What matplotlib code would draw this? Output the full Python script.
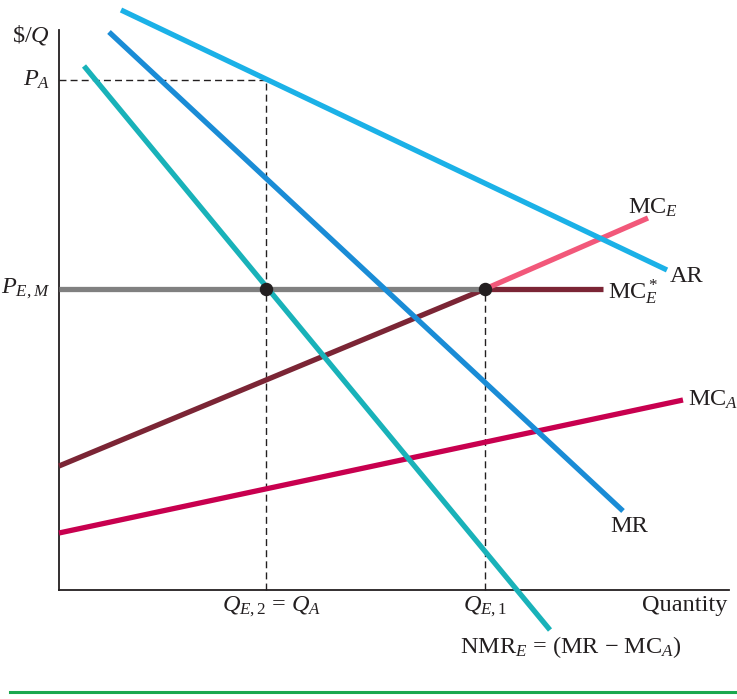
import matplotlib
matplotlib.use("Agg")
import matplotlib.pyplot as plt

plt.rcParams['font.family'] = 'Liberation Serif'
plt.rcParams['mathtext.fontset'] = 'custom'
plt.rcParams['mathtext.rm'] = 'Liberation Serif'
plt.rcParams['mathtext.it'] = 'Liberation Serif:italic'

# curve end points (quantity, $/Q) in diagram units
ar_q = [62, 608]
ar_p = [580, 320]
mr_q = [50, 564]
mr_p = [558, 79]
nmr_q = [25, 491]
nmr_p = [524, -40]
mca_q = [0, 624]
mca_p = [57, 190]
mce_q = [0, 426, 589]
mce_p = [124, 301, 372]
mce_star_end = 544

p_a = 510
p_em = 301
q_a = 207
q_e1 = 426

fig = plt.figure(figsize=(7.37, 6.99), dpi=100)
ax = fig.add_axes([0, 0, 1, 1])
ax.set_xlim(-59, 678)
ax.set_ylim(-109, 590)
ax.axis('off')

lw = 3.8
# axes
ax.plot([0, 0], [0, 560], color='#231f20', lw=1.3)
ax.plot([0, 670], [0, 0], color='#231f20', lw=1.3)

# dashed guides
dash = dict(color='#231f20', lw=1.0, ls=(0, (5, 3)))
ax.plot([0, q_a], [p_a, p_a], **dash)
ax.plot([q_a, q_a], [0, p_a], **dash)
ax.plot([q_e1, q_e1], [0, p_em], **dash)

# curves
ax.plot(mca_q, mca_p, color='#c8004f', lw=lw, solid_capstyle='butt')
ax.plot(mce_q[:2], mce_p[:2], color='#7b2535', lw=lw, solid_capstyle='butt')
ax.plot([q_e1, mce_star_end], [p_em, p_em], color='#7b2535', lw=lw, solid_capstyle='butt')
ax.plot([0, q_e1], [p_em, p_em], color='#808080', lw=lw, solid_capstyle='butt')
ax.plot(mce_q[1:], mce_p[1:], color='#f2587a', lw=lw, solid_capstyle='butt')
ax.plot(ar_q, ar_p, color='#1bb1e7', lw=lw, solid_capstyle='butt')
ax.plot(mr_q, mr_p, color='#1a8cd6', lw=lw, solid_capstyle='butt')
ax.plot(nmr_q, nmr_p, color='#19b2b9', lw=lw, solid_capstyle='butt')

ax.scatter([q_a, q_e1], [p_em, p_em], s=75, color='#231f20', zorder=5)

fs = 17.5
tc = '#231f20'
ax.text(-9, 555, r'$\$/Q$', fontsize=fs, ha='right', va='center', color=tc)
ax.text(-9, p_a, r'$P_A$', fontsize=fs, ha='right', va='center', color=tc)
ax.text(-9, p_em, r'$P_{E,M}$', fontsize=fs, ha='right', va='center', color=tc)
ax.text(mce_q[-1] - 20, 371, r'MC$_E$', fontsize=fs, ha='left', va='bottom', color=tc)
ax.text(ar_q[1] + 3, 314, 'AR', fontsize=fs, ha='left', va='center', color=tc)
ax.text(mce_star_end + 5, p_em - 3, r'MC$_E^*$', fontsize=fs, ha='left', va='center', color=tc)
ax.text(mca_q[1] + 5, 190, r'MC$_A$', fontsize=fs, ha='left', va='center', color=tc)
ax.text(mr_q[1] + 6, 63, 'MR', fontsize=fs, ha='center', va='center', color=tc)
ax.text(q_a + 6, -17, r'$Q_{E,2}$ = $Q_A$', fontsize=fs, ha='center', va='center', color=tc)
ax.text(q_e1, -17, r'$Q_{E,1}$', fontsize=fs, ha='center', va='center', color=tc)
ax.text(668, -15, 'Quantity', fontsize=fs, ha='right', va='center', color=tc)
ax.text(512, -57, r'NMR$_E$ = (MR $-$ MC$_A$)', fontsize=fs, ha='center', va='center', color=tc)

# green rule at the bottom
ax.plot([-49, 678], [-102, -102], color='#1aa84f', lw=2.2)

fig.savefig('out.png', dpi=100)
